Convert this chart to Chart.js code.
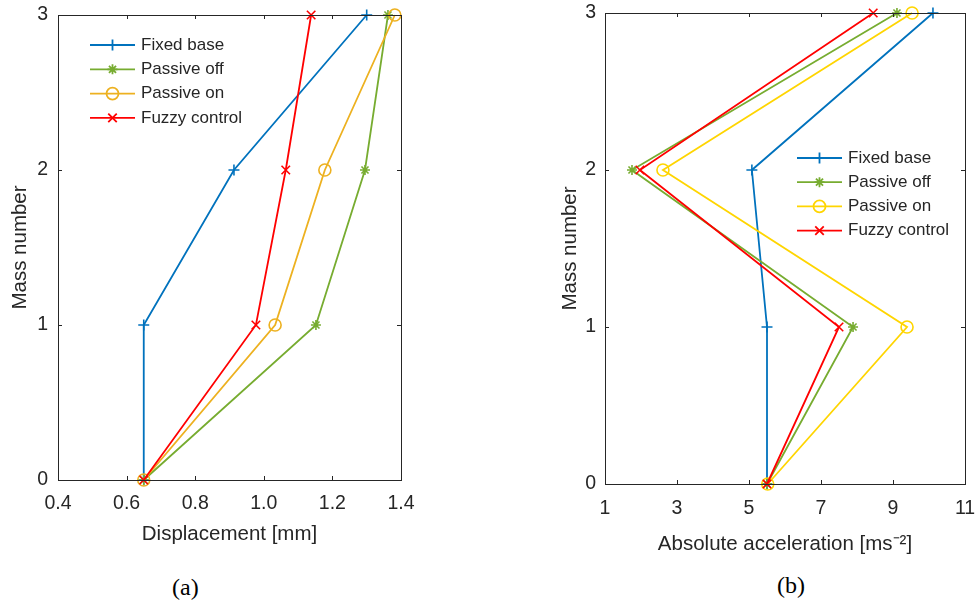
<!DOCTYPE html>
<html>
<head>
<meta charset="utf-8">
<script src="https://cdn.jsdelivr.net/npm/chart.js@4/dist/chart.umd.min.js"></script>
<style>
  html, body { margin: 0; padding: 0; background: #fff; }
  body { width: 977px; height: 606px; position: relative; overflow: hidden; }
  .box { position: absolute; top: 0; }
  .cap { position: absolute; font-family: 'Liberation Serif', 'Times New Roman', serif; font-size: 24px; color: #000; }
</style>
</head>
<body>
<div class="box" style="left:0; width:488px; height:547px;"><canvas id="chartA"></canvas></div>
<div class="box" style="left:540px; width:437px; height:557px;"><canvas id="chartB"></canvas></div>
<div class="cap" style="left:172px; top:574px;">(a)</div>
<div class="cap" style="left:777px; top:572px;">(b)</div>
<script>
// mass levels (y axis) and series
const massLevels = [0, 1, 2, 3];
const seriesNames = ['Fixed base', 'Passive off', 'Passive on', 'Fuzzy control'];

// (a) displacement [mm]
const dispFixed = [0.65, 0.65, 0.913, 1.30];
const dispPassiveOff = [0.65, 1.152, 1.295, 1.362];
const dispPassiveOn = [0.65, 1.033, 1.178, 1.382];
const dispFuzzy = [0.65, 0.977, 1.064, 1.138];

// (b) absolute acceleration [ms^-2]
const accFixed = [5.5, 5.5, 5.08, 10.11];
const accPassiveOff = [5.5, 7.89, 1.75, 9.11];
const accPassiveOn = [5.52, 9.39, 2.61, 9.53];
const accFuzzy = [5.5, 7.5, 1.97, 8.45];

// tick labels
const dispTicks = [0.4, 0.6, 0.8, 1, 1.2, 1.4];
const accTicks = [1, 3, 5, 7, 9, 11];
const massTicks = [0, 1, 2, 3];

const FONT = "'Liberation Sans', Arial, sans-serif";
const AXIS_COLOR = '#262626';
const markers = ['cross', 'star', 'circle', 'crossRot'];
const markerSize = [5.5, 5, 6, 6];

// draw one marker (used for the legend)
function drawMarker(ctx, style, x, y, r) {
    ctx.beginPath();
    if (style === 'circle') {
        ctx.arc(x, y, r, 0, Math.PI * 2);
    } else {
        const plus = style === 'cross' || style === 'star';
        const rot = style === 'crossRot' || style === 'star';
        if (plus) {
            ctx.moveTo(x - r, y); ctx.lineTo(x + r, y);
            ctx.moveTo(x, y - r); ctx.lineTo(x, y + r);
        }
        if (rot) {
            const d = r * Math.SQRT1_2;
            ctx.moveTo(x - d, y - d); ctx.lineTo(x + d, y + d);
            ctx.moveTo(x - d, y + d); ctx.lineTo(x + d, y - d);
        }
    }
    ctx.stroke();
}

// MATLAB style box, inward ticks and legend
const boxPlugin = {
    id: 'boxPlugin',
    afterDraw(chart, args, opts) {
        const ctx = chart.ctx;
        const a = chart.chartArea;
        const xs = chart.scales.x, ys = chart.scales.y;
        ctx.save();
        ctx.strokeStyle = AXIS_COLOR;
        ctx.lineWidth = 1;
        ctx.strokeRect(Math.round(a.left) + 0.5, Math.round(a.top) + 0.5,
            Math.round(a.right - a.left), Math.round(a.bottom - a.top));
        const tl = 4;
        ctx.beginPath();
        xs.ticks.forEach(t => {
            const px = Math.round(xs.getPixelForValue(t.value)) + 0.5;
            ctx.moveTo(px, a.bottom); ctx.lineTo(px, a.bottom - tl);
            ctx.moveTo(px, a.top); ctx.lineTo(px, a.top + tl);
        });
        ys.ticks.forEach(t => {
            const py = Math.round(ys.getPixelForValue(t.value)) + 0.5;
            ctx.moveTo(a.left, py); ctx.lineTo(a.left + tl, py);
            ctx.moveTo(a.right, py); ctx.lineTo(a.right - tl, py);
        });
        ctx.stroke();

        // legend
        const lg = opts.legend;
        ctx.font = lg.size + 'px ' + FONT;
        ctx.textBaseline = 'middle';
        ctx.textAlign = 'left';
        chart.data.datasets.forEach((ds, i) => {
            const y = lg.y + i * lg.gap;
            ctx.strokeStyle = ds.borderColor;
            ctx.lineWidth = 1.8;
            ctx.beginPath();
            ctx.moveTo(lg.x, y); ctx.lineTo(lg.x + lg.len, y);
            ctx.stroke();
            drawMarker(ctx, markers[i], lg.x + lg.len / 2, y, markerSize[i]);
            ctx.fillStyle = AXIS_COLOR;
            ctx.fillText(ds.label, lg.x + lg.len + 6, y);
        });
        ctx.restore();
    }
};

function makeDatasets(series, colors) {
    return series.map((vals, i) => ({
        label: seriesNames[i],
        data: vals.map((v, k) => ({ x: v, y: massLevels[k] })),
        borderColor: colors[i],
        backgroundColor: 'rgba(0,0,0,0)',
        borderWidth: 1.8,
        pointStyle: markers[i],
        pointRadius: markerSize[i],
        pointBorderWidth: 1.6,
        pointBorderColor: colors[i],
        pointBackgroundColor: 'rgba(0,0,0,0)',
        showLine: true,
        tension: 0,
        clip: false,
        order: 4 - i
    }));
}

function makeChart(id, series, colors, xTicks, xTitle, cfg) {
    return new Chart(document.getElementById(id), {
        type: 'scatter',
        data: { datasets: makeDatasets(series, colors) },
        plugins: [boxPlugin],
        options: {
            responsive: true,
            maintainAspectRatio: false,
            animation: false,
            events: [],
            layout: { padding: { left: 0, top: cfg.top, right: cfg.right, bottom: 0 } },
            scales: {
                x: {
                    type: 'linear',
                    min: xTicks[0],
                    max: xTicks[xTicks.length - 1],
                    afterBuildTicks: s => { s.ticks = xTicks.map(v => ({ value: v })); },
                    afterFit: s => { s.height = cfg.xHeight; s.paddingLeft = 0; s.paddingRight = 0; },
                    grid: { display: false, drawTicks: false },
                    border: { display: false },
                    ticks: { color: AXIS_COLOR, padding: cfg.xPad, font: { family: FONT, size: 19.5 }, maxRotation: 0, autoSkip: false },
                    title: { display: true, text: xTitle, color: AXIS_COLOR, padding: 0, font: { family: FONT, size: 20.5 } }
                },
                y: {
                    type: 'linear',
                    min: 0,
                    max: 3,
                    afterBuildTicks: s => { s.ticks = massTicks.map(v => ({ value: v })); },
                    afterFit: s => { s.width = cfg.yWidth; s.paddingTop = 0; s.paddingBottom = 0; },
                    grid: { display: false, drawTicks: false },
                    border: { display: false },
                    ticks: { color: AXIS_COLOR, padding: cfg.yPad, font: { family: FONT, size: 19.5 } },
                    title: { display: true, text: 'Mass number', color: AXIS_COLOR, padding: { top: cfg.yTitlePad, bottom: 0 }, font: { family: FONT, size: 20.5 } }
                }
            },
            plugins: {
                legend: { display: false },
                tooltip: { enabled: false },
                boxPlugin: { legend: cfg.legend }
            }
        }
    });
}

makeChart('chartA',
    [dispFixed, dispPassiveOff, dispPassiveOn, dispFuzzy],
    ['#0072BD', '#77AC30', '#EDB120', '#FF0000'],
    dispTicks, 'Displacement [mm]',
    { top: 15, right: 87, xHeight: 67, xPad: 12, yWidth: 58, yPad: 10, yTitlePad: 7.7,
      legend: { x: 90, y: 45, gap: 24.3, len: 45, size: 17 } });

makeChart('chartB',
    [accFixed, accPassiveOff, accPassiveOn, accFuzzy],
    ['#0072BD', '#77AC30', '#FFD500', '#FF0000'],
    accTicks, 'Absolute acceleration [ms\u207B\u00B2]',
    { top: 13, right: 12, xHeight: 73, xPad: 13, yWidth: 65, yPad: 9, yTitlePad: 17.7,
      legend: { x: 257, y: 158, gap: 24.2, len: 45, size: 17 } });
</script>
</body>
</html>
